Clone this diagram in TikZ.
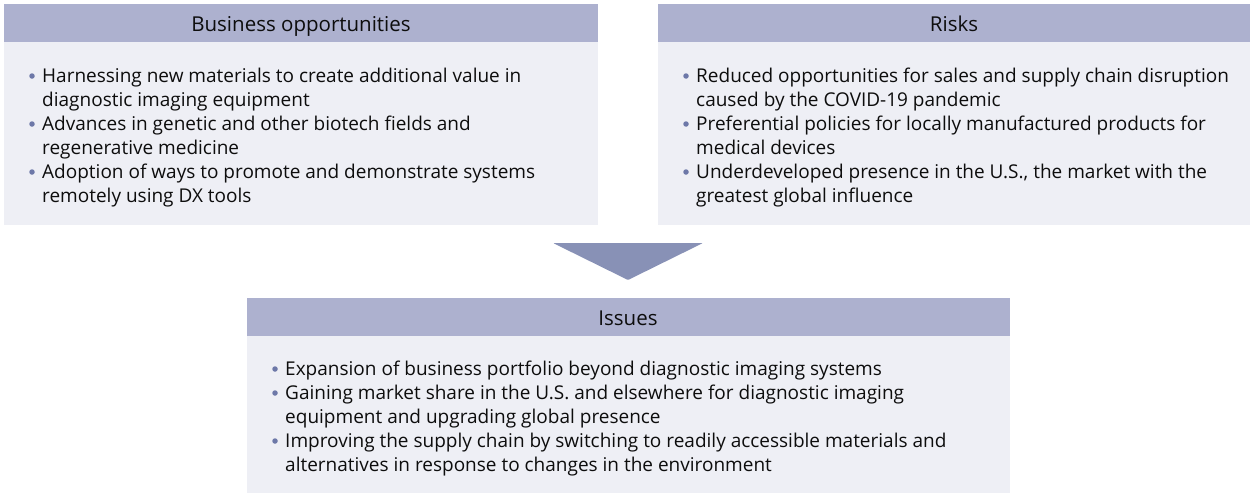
\documentclass[tikz,border=0pt]{standalone}
\usepackage{fontspec}
\setmainfont{Open Sans}
\definecolor{headfill}{HTML}{ADB1CF}
\definecolor{bodyfill}{HTML}{EEEFF5}
\definecolor{arrowfill}{HTML}{8891B6}
\definecolor{bulletcol}{HTML}{6D78A8}
\definecolor{txt}{HTML}{0D0D0D}
\tikzset{
  x=1pt, y=-1pt,
  headtext/.style={anchor=base, inner sep=0, font=\fontsize{20.5}{22}\selectfont, text=txt},
  item/.style={anchor=base west, inner sep=0, font=\fontsize{19}{24}\selectfont, text=txt},
  dot/.style={circle, fill=bulletcol, inner sep=0, minimum size=5.5pt},
}
\newcommand{\itm}[1]{\parbox[t]{760pt}{\baselineskip=24pt #1}}
\begin{document}
\begin{tikzpicture}
\useasboundingbox (0,0) rectangle (1250,493);
% Left box
\fill[bodyfill] (4,4) rectangle (598,225);
\fill[headfill] (4,4) rectangle (598,42);
\node[headtext] (h1) at (301,31) {Business opportunities};
\node[dot] (b11) at (32,76) {};
\node[item] (t11) at (42,82) {\itm{Harnessing new materials to create additional value in\\diagnostic imaging equipment}};
\node[dot] (b12) at (32,124) {};
\node[item] (t12) at (42,130) {\itm{Advances in genetic and other biotech fields and\\regenerative medicine}};
\node[dot] (b13) at (32,172) {};
\node[item] (t13) at (42,178) {\itm{Adoption of ways to promote and demonstrate systems\\remotely using DX tools}};
% Right box
\fill[bodyfill] (658,4) rectangle (1250,225);
\fill[headfill] (658,4) rectangle (1250,42);
\node[headtext] (h2) at (954,31) {Risks};
\node[dot] (b21) at (686,76) {};
\node[item] (t21) at (696,82) {\itm{Reduced opportunities for sales and supply chain disruption\\caused by the COVID-19 pandemic}};
\node[dot] (b22) at (686,124) {};
\node[item] (t22) at (696,130) {\itm{Preferential policies for locally manufactured products for\\medical devices}};
\node[dot] (b23) at (686,172) {};
\node[item] (t23) at (696,178) {\itm{Underdeveloped presence in the U.S., the market with the\\greatest global influence}};
% Arrow
\fill[arrowfill, rounded corners=1pt] (553,243) -- (703,243) -- (628,280) -- cycle;
% Issues box
\fill[bodyfill] (247,298) rectangle (1010,493);
\fill[headfill] (247,298) rectangle (1010,336);
\node[headtext] (h3) at (628,325) {Issues};
\node[dot] (b31) at (275,369) {};
\node[item] (t31) at (285,375) {\itm{Expansion of business portfolio beyond diagnostic imaging systems}};
\node[dot] (b32) at (275,393) {};
\node[item] (t32) at (285,399) {\itm{Gaining market share in the U.S. and elsewhere for diagnostic imaging\\equipment and upgrading global presence}};
\node[dot] (b33) at (275,441) {};
\node[item] (t33) at (285,447) {\itm{Improving the supply chain by switching to readily accessible materials and\\alternatives in response to changes in the environment}};
\end{tikzpicture}
\end{document}
